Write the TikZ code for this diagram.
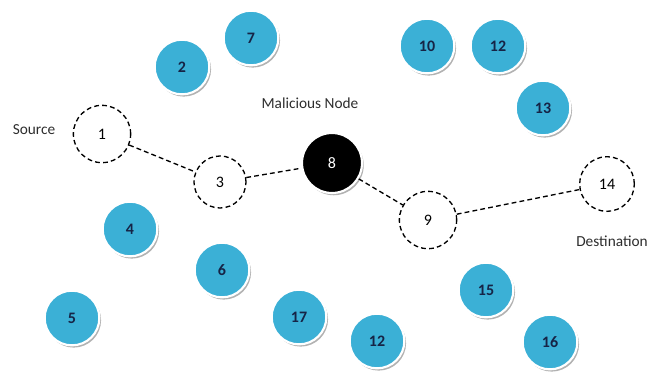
\documentclass[tikz,border=0pt]{standalone}
\usepackage{fontspec}
\setmainfont{Carlito}
\usetikzlibrary{shadows}
\definecolor{nodeblue}{RGB}{59,176,214}
\definecolor{numnavy}{RGB}{22,36,70}
\definecolor{labelgrey}{RGB}{45,45,45}
\tikzset{
  idle/.style={circle, draw=white, line width=1.6pt, fill=nodeblue, minimum size=41pt,
    text=numnavy, font=\fontsize{12}{14}\selectfont\bfseries,
    drop shadow={shadow xshift=1.3pt, shadow yshift=-1.7pt, fill=black, opacity=0.3}},
  route/.style={circle, draw, dash pattern=on 3.6pt off 2.4pt, line width=1pt,
    minimum size=43pt, inner sep=0pt, font=\fontsize{12}{14}\selectfont},
  bad/.style={circle, draw=white, line width=1.6pt, fill=black, minimum size=45pt,
    text=white, font=\fontsize{12}{14}\selectfont,
    drop shadow={shadow xshift=1.3pt, shadow yshift=-1.7pt, fill=black, opacity=0.3}},
  tag/.style={text=labelgrey, font=\fontsize{11.5}{13}\selectfont},
  link/.style={dash pattern=on 3.6pt off 2.4pt, line width=1pt}
}
\begin{document}
\begin{tikzpicture}[x=0.75pt, y=-0.75pt]
    \useasboundingbox (0,0) rectangle (654,379);

    % route from source to destination
    \node[route] (n1) at (102,134) {1};
    \node[route, minimum size=39pt] (n3) at (220,182) {3};
    \node[bad] (n8) at (332,163) {8};
    \node[route] (n9) at (428,220) {9};
    \node[route, minimum size=41pt] (n14) at (607,184) {14};
    \draw[link] (n1) -- (n3);
    \draw[link] (n3) -- (n8);
    \draw[link] (n8) -- (n9);
    \draw[link] (n9) -- (n14);

    \node[tag] (src) at (34,130) {Source};
    \node[tag] (mal) at (310,103) {Malicious Node};
    \node[tag] (dst) at (612,241) {Destination};

    % other nodes
    \node[idle] (n2) at (182,67) {2};
    \node[idle] (n7) at (251,38) {7};
    \node[idle] (n10) at (427,46) {10};
    \node[idle] (n12a) at (498,46) {12};
    \node[idle] (n13) at (543,108) {13};
    \node[idle] (n4) at (130,229) {4};
    \node[idle] (n6) at (222,270) {6};
    \node[idle] (n5) at (72,318) {5};
    \node[idle] (n17) at (299,317) {17};
    \node[idle] (n12b) at (377,341) {12};
    \node[idle] (n15) at (486,290) {15};
    \node[idle] (n16) at (550,342) {16};
\end{tikzpicture}
\end{document}
